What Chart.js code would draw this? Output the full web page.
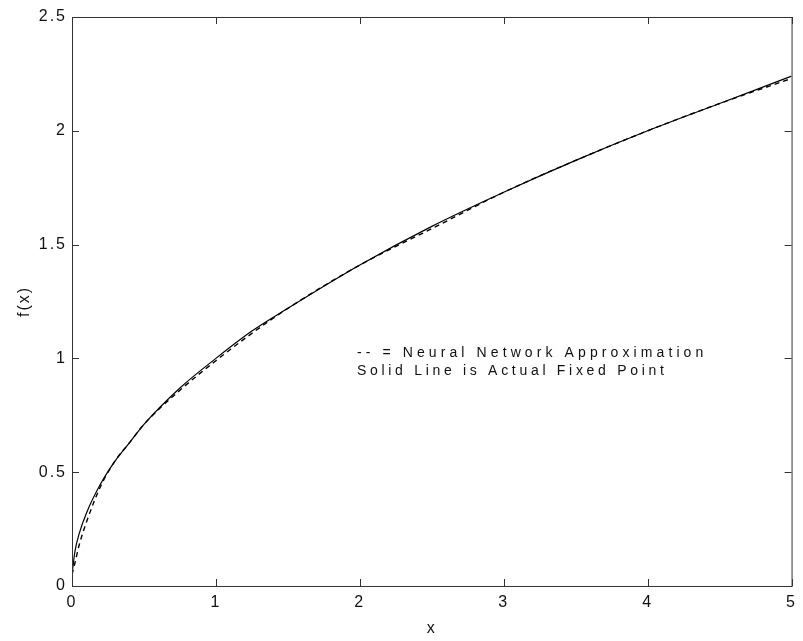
<!DOCTYPE html>
<html>
<head>
<meta charset="utf-8">
<script src="https://cdn.jsdelivr.net/npm/chart.js@4.4.1/dist/chart.umd.min.js"></script>
<style>
  html, body { margin: 0; padding: 0; background: #fff; }
  #wrap { width: 803px; height: 641px; }
</style>
</head>
<body>
<div id="wrap"><canvas id="fixedPointChart"></canvas></div>
<script>
// sample points along x
const xValues = [0, 0.02, 0.05, 0.1, 0.2, 0.3, 0.4, 0.5, 0.75, 1, 1.25, 1.5, 2, 2.5, 3, 3.5, 4, 4.5, 5];
// actual fixed point (solid)
const actualFixed = [0.05, 0.15, 0.23, 0.32, 0.45, 0.55, 0.63, 0.71, 0.87, 1.0, 1.12, 1.22, 1.41, 1.58, 1.73, 1.87, 2.0, 2.12, 2.24];
// neural network approximation (dashed)
const nnApprox = [0.05, 0.10, 0.18, 0.28, 0.44, 0.55, 0.63, 0.71, 0.86, 0.99, 1.11, 1.22, 1.41, 1.57, 1.73, 1.87, 2.0, 2.12, 2.23];

const xTicks = [0, 1, 2, 3, 4, 5];
const yTicks = [0, 0.5, 1, 1.5, 2, 2.5];
const noteLines = ['-- = Neural Network Approximation', 'Solid Line is Actual Fixed Point'];

const FONT = 'Liberation Sans, Arial, sans-serif';

// box around plot + inward ticks on every side, and the note text
const framePlugin = {
  id: 'frame',
  beforeDraw(chart) {
    chart.ctx.letterSpacing = '2px';
  },
  afterDraw(chart) {
    const { ctx, chartArea: a, scales: { x, y } } = chart;
    ctx.save();
    ctx.strokeStyle = '#333';
    ctx.lineWidth = 1;
    ctx.strokeRect(a.left + 0.5, a.top + 0.5, a.right - a.left, a.bottom - a.top);
    const len = 7;
    ctx.beginPath();
    xTicks.forEach(v => {
      const px = Math.round(x.getPixelForValue(v)) + 0.5;
      ctx.moveTo(px, a.bottom); ctx.lineTo(px, a.bottom - len);
      ctx.moveTo(px, a.top); ctx.lineTo(px, a.top + len);
    });
    yTicks.forEach(v => {
      const py = Math.round(y.getPixelForValue(v)) + 0.5;
      ctx.moveTo(a.left, py); ctx.lineTo(a.left + len, py);
      ctx.moveTo(a.right, py); ctx.lineTo(a.right - len, py);
    });
    ctx.stroke();

    ctx.fillStyle = '#111';
    ctx.font = '14px ' + FONT;
    ctx.letterSpacing = '4.1px';
    ctx.textBaseline = 'middle';
    ctx.textAlign = 'left';
    const tx = x.getPixelForValue(1.98);
    ctx.fillText(noteLines[0], tx, y.getPixelForValue(1.022));
    ctx.letterSpacing = '3.7px';
    ctx.fillText(noteLines[1], tx, y.getPixelForValue(0.942));
    ctx.restore();
  }
};

new Chart(document.getElementById('fixedPointChart'), {
  type: 'scatter',
  data: {
    datasets: [
      {
        label: 'Actual Fixed Point',
        data: xValues.map((v, i) => ({ x: v, y: actualFixed[i] })),
        showLine: true,
        borderColor: '#000',
        borderWidth: 1.2,
        pointRadius: 0,
        cubicInterpolationMode: 'monotone'
      },
      {
        label: 'Neural Network Approximation',
        data: xValues.map((v, i) => ({ x: v, y: nnApprox[i] })),
        showLine: true,
        borderColor: '#000',
        borderWidth: 1.4,
        borderDash: [5, 4],
        pointRadius: 0,
        cubicInterpolationMode: 'monotone'
      }
    ]
  },
  options: {
    responsive: true,
    maintainAspectRatio: false,
    animation: false,
    layout: { padding: { top: 17, right: 9, left: 0, bottom: 0 } },
    plugins: { legend: { display: false }, tooltip: { enabled: false } },
    scales: {
      x: {
        type: 'linear',
        min: 0, max: 5,
        afterFit: s => { s.height = 55; },
        afterBuildTicks: s => { s.ticks = xTicks.map(v => ({ value: v })); },
        grid: { display: false, drawTicks: false },
        border: { display: false },
        ticks: { color: '#111', padding: 7, font: { family: FONT, size: 16 }, maxRotation: 0, callback: v => String(v) },
        title: { display: true, text: 'x', color: '#111', padding: { top: 0, bottom: 3 }, font: { family: FONT, size: 16 } }
      },
      y: {
        type: 'linear',
        min: 0, max: 2.5,
        afterFit: s => { s.width = 72; },
        afterBuildTicks: s => { s.ticks = yTicks.map(v => ({ value: v })); },
        grid: { display: false, drawTicks: false },
        border: { display: false },
        ticks: { color: '#111', padding: 5, font: { family: FONT, size: 16 }, callback: v => String(v) },
        title: { display: true, text: 'f(x)', color: '#111', padding: { top: 15, bottom: 0 }, font: { family: FONT, size: 16 } }
      }
    }
  },
  plugins: [framePlugin]
});
</script>
</body>
</html>
